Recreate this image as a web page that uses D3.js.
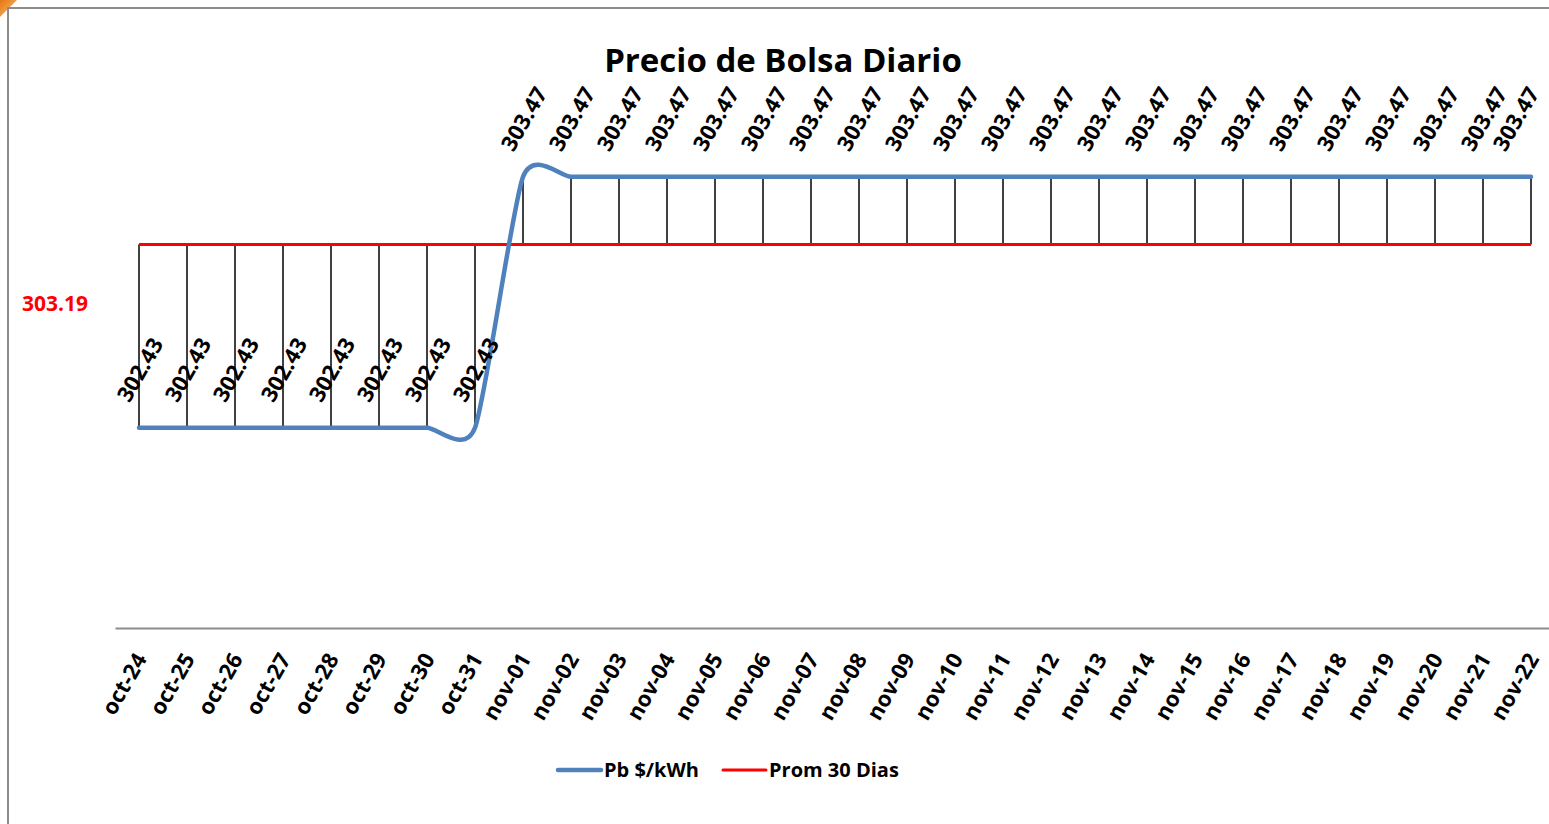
<!DOCTYPE html>
<html>
<head>
<meta charset="utf-8">
<script src="https://cdn.jsdelivr.net/npm/d3@7"></script>
<style>
  body { margin: 0; background: #fff; }
  svg { display: block; }
  text { font-family: 'Open Sans', sans-serif; font-weight: bold; }
</style>
</head>
<body>
<div id="chart"></div>
<script>
// categories and values
var dates = ['oct-24', 'oct-25', 'oct-26', 'oct-27', 'oct-28', 'oct-29', 'oct-30', 'oct-31',
  'nov-01', 'nov-02', 'nov-03', 'nov-04', 'nov-05', 'nov-06', 'nov-07', 'nov-08', 'nov-09',
  'nov-10', 'nov-11', 'nov-12', 'nov-13', 'nov-14', 'nov-15', 'nov-16', 'nov-17', 'nov-18',
  'nov-19', 'nov-20', 'nov-21', 'nov-22'];
var precio = [302.43, 302.43, 302.43, 302.43, 302.43, 302.43, 302.43, 302.43,
  303.47, 303.47, 303.47, 303.47, 303.47, 303.47, 303.47, 303.47, 303.47,
  303.47, 303.47, 303.47, 303.47, 303.47, 303.47, 303.47, 303.47, 303.47,
  303.47, 303.47, 303.47, 303.47];
var promedio = 303.19;
var seriesNames = ['Pb $/kWh', 'Prom 30 Dias'];

var width = 1549, height = 824;
var colorPb = '#4f81bd', colorProm = '#ff0000';

var svg = d3.select('#chart').append('svg')
  .attr('width', width)
  .attr('height', height);

// frame + corner mark
var grad = svg.append('defs').append('linearGradient')
  .attr('id', 'corner').attr('x1', 0).attr('y1', 0).attr('x2', 1).attr('y2', 1);
grad.append('stop').attr('offset', '0%').attr('stop-color', '#e8760f');
grad.append('stop').attr('offset', '100%').attr('stop-color', '#f6c27a');
svg.append('path')
  .attr('d', 'M0,0 L17,0 L0,17 Z')
  .attr('fill', 'url(#corner)');
svg.append('path')
  .attr('d', 'M8,' + height + ' L8,8 L' + width + ',8')
  .attr('fill', 'none')
  .attr('stroke', '#8c8c8c')
  .attr('stroke-width', 2);

// scales
var x = d3.scaleBand().domain(dates).range([115, 1555]);
var cx = function(d) { return x(d) + x.bandwidth() / 2; };
var y = d3.scaleLinear().domain([301.6, 304.0]).range([628, 49]);

// title
svg.append('text')
  .attr('x', 783)
  .attr('y', 72)
  .attr('text-anchor', 'middle')
  .style('font-size', '33px')
  .text('Precio de Bolsa Diario');

// category axis
var axis = svg.append('g')
  .attr('transform', 'translate(0,' + y(301.6) + ')')
  .call(d3.axisBottom(x).tickSize(0).tickPadding(0));
axis.select('.domain').attr('stroke', '#8c8c8c').attr('stroke-width', 2);
axis.selectAll('.tick text')
  .attr('fill', '#000')
  .attr('text-anchor', 'end')
  .attr('dy', '0.35em')
  .attr('x', 0).attr('y', 0)
  .attr('transform', 'translate(2,27) rotate(-60)')
  .style('font-size', '22px')
  .style('font-family', "'Open Sans', sans-serif")
  .style('font-weight', 'bold');

// high-low lines between the two series
svg.append('g').selectAll('line')
  .data(dates)
  .enter().append('line')
  .attr('x1', cx).attr('x2', cx)
  .attr('y1', function(d, i) { return y(precio[i]); })
  .attr('y2', y(promedio))
  .attr('stroke', '#000')
  .attr('stroke-width', 1.5);

// average line
svg.append('line')
  .attr('x1', cx(dates[0])).attr('x2', cx(dates[dates.length - 1]))
  .attr('y1', y(promedio)).attr('y2', y(promedio))
  .attr('stroke', colorProm)
  .attr('stroke-width', 3);

// smoothed price line
var line = d3.line()
  .x(function(d, i) { return cx(dates[i]); })
  .y(function(d) { return y(d); })
  .curve(d3.curveCardinal.tension(0.35));
svg.append('path')
  .datum(precio)
  .attr('d', line)
  .attr('fill', 'none')
  .attr('stroke', colorPb)
  .attr('stroke-width', 4.5)
  .attr('stroke-linecap', 'round');

// data labels (kept inside the chart area, like the last one in the original)
svg.append('g').selectAll('text')
  .data(precio)
  .enter().append('text')
  .attr('transform', function(d, i) {
    var lx = Math.min(cx(dates[i]) + 1, width - 33);
    return 'translate(' + lx + ',' + (y(d) - 58) + ') rotate(-60)';
  })
  .attr('text-anchor', 'middle')
  .attr('dy', '0.35em')
  .style('font-size', '22px')
  .text(function(d) { return d3.format('.2f')(d); });

// average label
svg.append('text')
  .attr('x', 55)
  .attr('y', 311)
  .attr('text-anchor', 'middle')
  .attr('fill', colorProm)
  .style('font-size', '21px')
  .text(d3.format('.2f')(promedio));

// legend
var legend = svg.append('g');
var legendItems = [
  {name: seriesNames[0], color: colorPb, w: 4.5, x: 557},
  {name: seriesNames[1], color: colorProm, w: 3, x: 722}
];
var item = legend.selectAll('g')
  .data(legendItems)
  .enter().append('g')
  .attr('transform', function(d) { return 'translate(' + d.x + ',770)'; });
item.append('line')
  .attr('x1', 1).attr('x2', 44)
  .attr('stroke', function(d) { return d.color; })
  .attr('stroke-width', function(d) { return d.w; })
  .attr('stroke-linecap', 'round');
item.append('text')
  .attr('x', 47)
  .attr('dy', '0.35em')
  .style('font-size', '20px')
  .text(function(d) { return d.name; });
</script>
</body>
</html>
